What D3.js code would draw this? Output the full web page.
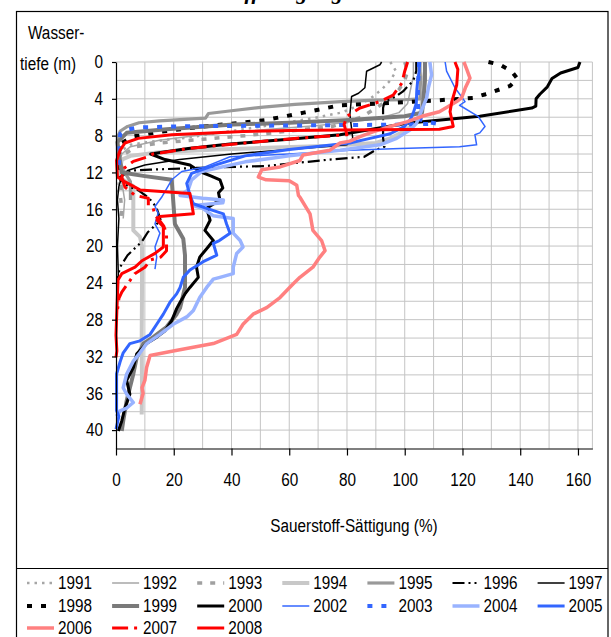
<!DOCTYPE html>
<html><head><meta charset="utf-8">
<script src="https://cdn.jsdelivr.net/npm/d3@7"></script>
<style>
html,body{margin:0;padding:0;background:#fff;}
text{font-family:"Liberation Sans Narrow","Arial Narrow","Liberation Sans",Arial,sans-serif;}
</style></head>
<body>
<svg id="chart" width="611" height="637"></svg>
<script>
// ---- data: [saturation %, depth m] ----
const s1991=[[95,0],[97,1],[95,2],[92,3],[88,4],[82,5],[78,5.5],[70,6],[55,6.8],[40,7.5],[25,8.2],[11,8.7],[5,9],[2,9.6],[1,10.5],[0.5,12],[1,13],[0.5,14.5]];
const s1992=[[103,0],[103,1.5],[102,3],[101,4.5],[98,5.5],[90,6.2],[70,6.9],[50,7.4],[30,7.9],[15,8.5],[5,9.2],[2,10],[1,11.5],[2,13],[3,15],[2.5,17]];
const s1993=[[100,0],[101,1],[100,2],[98,3],[95,4],[90,5],[85,6],[75,7],[60,7.5],[45,8],[30,8.4],[15,8.8],[7,9.2],[3,10],[1.5,11],[1,12],[2,13],[1.5,14.5],[2,16],[1.5,17.5]];
const s1994=[[107,0],[107,1],[106.5,2],[106.5,3],[106,4],[105.5,5.5],[104,6.5],[100,7.5],[95,8.3],[90,8.8],[75,9.1],[55,9.3],[35,9.5],[15,9.8],[5,10.2],[2,10.6],[1.5,11.5],[1,12.5],[3,12.9],[6,13.5],[6,16],[6,18.3],[8.3,19],[9,20],[9,25],[8.9,30],[9,35],[8.9,38.3]];
const s1995=[[105.3,0],[105.3,1],[105.5,2],[105.3,3],[105.3,4],[100,4.1],[90,4.15],[78,4.3],[62,4.6],[51,4.9],[40,5.3],[32,5.6],[31,6.1],[25,6.2],[15,6.4],[8,6.6],[4,7],[1.5,7.5],[0.5,8.2],[0.5,9.5],[1.5,11],[3,12],[5,13],[5,15]];
const s1996=[[104,0],[104,1],[103,2],[99.4,3.2],[96.6,3.8],[93,4.3],[92.5,5],[92.5,8.3],[93,9.2],[89.7,9.6],[86,10.3],[74.1,10.6],[52,11.3],[29,11.5],[11.8,11.7],[4.9,11.8],[1.4,12.5],[3,13.3],[8,14],[11.5,14.8],[14,15.8],[15.5,17.2],[11,18.5],[9,19.5],[4,21],[1.4,22.3],[0.5,23.5]];
const s1997=[[92,0],[91.4,0.3],[86.8,1],[86.2,2.8],[84,3.4],[81.6,3.75],[81,5.7],[81.5,7],[82,8.3],[80,9],[60,9.5],[40,10],[22,10.6],[10,11.2],[4,11.8],[2,12.5],[1,13.5],[0.5,15],[1,17],[0.5,20],[0.8,23],[0.3,26]];
const s1998=[[129,0],[133,0.3],[137,1],[139,1.8],[136.5,2.6],[128,3.5],[123.6,3.9],[110,4.2],[95,4.45],[77.6,4.7],[65,5.5],[52,6.3],[40,6.7],[29,7.05],[15,7.6],[5.9,8.1],[2,8.8],[1,10],[1.5,11],[1,12],[2,13]];
const s1999=[[107,0],[107,2],[106.5,4],[106,5.5],[100,5.9],[81,6.3],[60,6.6],[40.6,6.8],[17.5,7.3],[3.7,7.7],[0.5,8.7],[1,10],[2,12],[10,12.4],[19.3,12.8],[19.8,15],[20.4,17.6],[23.3,19.2],[23.9,21],[23.9,24.5],[22.2,26.7],[21,27.4],[17.5,28.8],[12.9,29.9],[9.5,30.6],[7.2,32.1],[6,33.9],[4.8,35.4],[3.7,36.8],[2.5,39],[2,40.1]];
const s2000=[[160.7,0],[160,0.6],[154,1.2],[151,1.8],[149.4,2.7],[146.8,3.5],[145.5,4],[145.4,4.8],[144,5],[126,5.9],[100.7,6.65],[77.6,7.9],[60,8.4],[39.5,8.9],[25,9.4],[12,10],[17,10.6],[25.6,11.2],[29,11.9],[33,12.4],[36,12.8],[37,13.7],[35.5,14.2],[36,15],[31.4,15.9],[32.6,17.2],[30.8,18.3],[33.7,19.4],[31.9,20.1],[29,21.2],[27.9,22.3],[28.5,23.4],[25.6,24.5],[23.9,25.2],[22.2,26.1],[21,26.8],[19.3,28.1],[17,29.2],[14.1,29.9],[10.6,30.6],[7.2,31.7],[6,33.2],[3.7,34.6],[4.8,36.1],[3.1,37.6],[2,39],[0.8,40.1]];
const s2002=[[114,0],[114.5,1],[117.4,2.8],[120.9,4.3],[119,4.7],[125.4,5.9],[127.8,7],[126,7.7],[124.3,7.9],[124.9,9],[119,9.2],[98.4,9.4],[81,9.6],[60,10],[39.5,10.3],[30.8,11.4],[22.8,11.9],[19.3,12.8],[15.8,14.7],[13.5,15.7],[14.6,16.4],[13.5,17.6],[15.2,18.6],[13.5,20.1],[14.1,21.2],[13.5,22.5]];
const s2003=[[105,0],[104.7,2],[104.5,4],[104.8,6.2],[108,6.5],[111,6.7],[100,6.8],[80,6.85],[60,6.9],[40,6.95],[22,7],[8,7.1],[3,7.4],[1.5,7.8],[1,9],[1.5,10],[1,11],[1.5,12]];
const s2004=[[108.7,0],[109.3,1.4],[108.2,2.8],[107.6,3.9],[105.9,5.2],[104.1,6.65],[101.8,7.4],[97.2,8.3],[91.4,9],[77.6,9.6],[60,10.2],[44.7,10.85],[29.7,11.9],[26.2,12.8],[25,13.9],[22.2,14.5],[30,14.8],[37.2,15],[37,15.3],[26.8,15.6],[30,15.9],[33.6,16.7],[40.6,17],[40.6,18.6],[43,19.4],[44,20.1],[41.8,20.8],[40.6,22.3],[40.6,23],[36,23.4],[33.7,23.6],[31.4,24.5],[29,25.6],[26.8,27],[24.5,27.7],[19.8,28.5],[15.2,29.6],[10.6,30.6],[8.3,31.6],[6,32.5],[3.7,33.9],[2.5,35.4],[3.7,36.1],[6,37],[3.7,37.6],[1.4,37.9],[0.2,38.5]];
const s2005=[[105,0],[105,1],[104.5,2],[104.2,3],[104,4.5],[103,5.5],[102,6.2],[100,7],[95,7.8],[88,8.3],[81,8.8],[60,9.5],[44.7,10.2],[34.3,11.2],[26.2,12.1],[24.5,13.2],[25.6,14.5],[26.8,15.4],[31.4,15.9],[37.2,16.5],[38.3,17.6],[39.5,18.6],[35.8,19.4],[33.7,19.7],[34.9,21],[30.2,21.7],[25.6,22.6],[23.3,23.4],[22.2,24.5],[21,25.2],[18.7,26.1],[16.4,27.4],[14.1,28.5],[11.8,29.6],[8.3,30.3],[4.8,30.6],[2.5,31.6],[1.4,32.6],[0.2,33.9],[0.2,37.9],[1,38.5],[0,39.9]];
const s2006=[[120.5,0],[121.5,0.8],[122.6,1.75],[121,2.8],[119.7,3.9],[118,4.3],[112,5.4],[106,5.9],[100.7,6.5],[95,7],[89,7.6],[84.5,8.1],[81,8.6],[77.6,8.8],[74,9.6],[64.8,10.1],[63.7,10.7],[56.8,11.4],[50.5,11.7],[49.3,12.5],[52,12.8],[60,12.9],[62.6,13.4],[63.2,14.5],[63.7,14.7],[67.2,16.5],[68.2,18.3],[71.2,19.4],[72.4,20.5],[70.6,21.2],[68.2,22.3],[63.7,23.4],[61.4,24.1],[56.8,25.6],[52.2,26.7],[47.5,27.4],[44,28.5],[41.8,29.6],[33.7,30.6],[19.8,31.4],[11.8,31.9],[10.6,33.2],[10,34.6],[9,35.4],[9.4,36],[8.3,37.2]];
const s2007=[[101,0],[100,1],[99,2.3],[96,3.6],[91.4,4.3],[84.5,5],[80,5.9],[79,6.8],[80,7.9],[62,8.3],[44.7,8.8],[25,9.4],[12.8,10],[11,10.3],[6,10.8],[3,11.5],[2,12.5],[3.1,13.6],[6.6,14.5],[11.2,14.8],[11.2,15.6],[12.9,15.9],[13.5,16.7],[15,17.2],[16.5,17.8],[17.5,18.6],[17.5,20.5],[15.5,21.2],[12,21.5],[10,22.3],[6.5,23],[4.5,23.9],[2,25],[1,25.7],[0.5,27]];
const s2008=[[117.4,0],[118.4,0.8],[118,2.5],[116.3,4.3],[115.7,5.4],[116.8,7],[112,7.3],[90,7.35],[77.6,7.4],[60,7.45],[44,7.55],[19.3,7.9],[7.7,8.3],[3.1,8.8],[1.4,9.6],[0.2,10.7],[0.5,12.5],[3,13],[8.3,13.9],[25.6,14.3],[26.8,16.5],[15.2,16.8],[14.2,17.2],[16.4,17.9],[16.4,20.1],[13.5,20.8],[9,21.6],[6.6,22.3],[2,23],[0.7,23.7],[0.3,27],[0,29.7],[0.3,31.4],[0,32.1]];

const years=["1991","1992","1993","1994","1995","1996","1997","1998","1999","2000","2002","2003","2004","2005","2006","2007","2008"];
const seriesData=[s1991,s1992,s1993,s1994,s1995,s1996,s1997,s1998,s1999,s2000,s2002,s2003,s2004,s2005,s2006,s2007,s2008];
const xTicks=[0,20,40,60,80,100,120,140,160];
const yTicks=[0,4,8,12,16,20,24,28,32,36,40];

// ---- styles ----
const styles={
 "1991":{c:"#a6a6a6",w:2.5,d:"2.5,5"},
 "1992":{c:"#a6a6a6",w:1.5,d:null},
 "1993":{c:"#a0a0a0",w:3.5,d:"5,8"},
 "1994":{c:"#c8c8c8",w:4,d:null},
 "1995":{c:"#999999",w:3.2,d:null},
 "1996":{c:"#000000",w:2.2,d:"12,4,2,4,2,4"},
 "1997":{c:"#000000",w:1.5,d:null},
 "1998":{c:"#000000",w:4,d:"5,9"},
 "1999":{c:"#7a7a7a",w:4,d:null},
 "2000":{c:"#000000",w:3,d:null},
 "2002":{c:"#3366ff",w:1.5,d:null},
 "2003":{c:"#3366ff",w:4,d:"5,9"},
 "2004":{c:"#99b3ff",w:3.5,d:null},
 "2005":{c:"#3366ff",w:3,d:null},
 "2006":{c:"#ff8080",w:3.5,d:null},
 "2007":{c:"#ff0000",w:3,d:"16,6,3,6"},
 "2008":{c:"#ff0000",w:3,d:null}
};

const FS="18px", SQ=0.85;
const tf="'Liberation Sans Narrow','Arial Narrow','Liberation Sans',sans-serif";
function narrow(sel){
  sel.each(function(){
    const w=this.getComputedTextLength();
    if(w>0){ d3.select(this).attr("textLength",w*SQ).attr("lengthAdjust","spacingAndGlyphs"); }
  });
}

const svg=d3.select("#chart");
const x=d3.scaleLinear().domain([0,165]).range([116,592.4]);
const y=d3.scaleLinear().domain([0,42]).range([62,448.5]);

// title (mostly cut off at top, as in the reference)
svg.append("text").attr("x",165).attr("y",-1)
  .style("font-family","'Liberation Serif','Times New Roman',serif")
  .style("font-weight","bold").style("font-style","italic").style("font-size","22px")
  .text("Sauerstoffsättigung");

// frame
svg.append("rect").attr("x",16.5).attr("y",11.5).attr("width",591.5).attr("height",700)
  .attr("fill","none").attr("stroke","#000").attr("stroke-width",1.2);
svg.append("line").attr("x1",16.5).attr("x2",608).attr("y1",568.5).attr("y2",568.5)
  .attr("stroke","#000").attr("stroke-width",1.2);

// grid
const g=svg.append("g");
g.selectAll(".vg").data(d3.range(10,161,10).concat([165])).enter().append("line")
  .attr("x1",d=>x(d)).attr("x2",d=>x(d)).attr("y1",y(0)).attr("y2",y(42))
  .attr("stroke","#c4c4c4").attr("stroke-width",1);
g.selectAll(".hg").data(d3.range(0,41,2)).enter().append("line")
  .attr("x1",x(0)).attr("x2",x(165)).attr("y1",d=>y(d)).attr("y2",d=>y(d))
  .attr("stroke","#c4c4c4").attr("stroke-width",1);

// lines
const line=d3.line().x(d=>x(d[0])).y(d=>y(d[1]));
years.forEach((yr,i)=>{
  const s=styles[yr];
  svg.append("path").datum(seriesData[i]).attr("d",line)
    .attr("fill","none").attr("stroke",s.c).attr("stroke-width",s.w)
    .attr("stroke-dasharray",s.d).attr("stroke-linejoin","round");
});

// axes
const xa=svg.append("g").attr("transform",`translate(0,${y(42)})`)
  .call(d3.axisBottom(x).tickValues(xTicks).tickSize(7).tickSizeOuter(0).tickPadding(18));
const ya=svg.append("g").attr("transform",`translate(${x(0)},0)`)
  .call(d3.axisLeft(y).tickValues(yTicks).tickSize(4).tickSizeOuter(0).tickPadding(9));
[xa,ya].forEach(a=>{
  a.selectAll("text").style("font-size",FS).attr("fill","#000").style("font-family",tf);
  a.selectAll("line,path").attr("stroke","#000").attr("stroke-width",1.2);
  narrow(a.selectAll("text"));
});

// axis titles
const t1=svg.append("text").attr("x",28).attr("y",39).style("font-size",FS).style("font-family",tf).text("Wasser-");
const t2=svg.append("text").attr("x",20).attr("y",70).style("font-size",FS).style("font-family",tf).text("tiefe (m)");
const t3=svg.append("text").attr("x",354).attr("y",532).attr("text-anchor","middle")
  .style("font-size",FS).style("font-family",tf).text("Sauerstoff-Sättigung (%)");
[t1,t2,t3].forEach(narrow);

// legend
const leg=svg.append("g");
const rowY=[589,612,634];
years.forEach((yr,i)=>{
  const col=i%7,row=Math.floor(i/7);
  const tx=58+85.1*col, ty=rowY[row];
  const s=styles[yr];
  leg.append("line").attr("x1",tx-31).attr("x2",tx-4).attr("y1",ty-6).attr("y2",ty-6)
    .attr("stroke",s.c).attr("stroke-width",s.w).attr("stroke-dasharray",s.d);
  const t=leg.append("text").attr("x",tx).attr("y",ty).style("font-size",FS).style("font-family",tf).text(yr);
  narrow(t);
});
</script>
</body></html>
